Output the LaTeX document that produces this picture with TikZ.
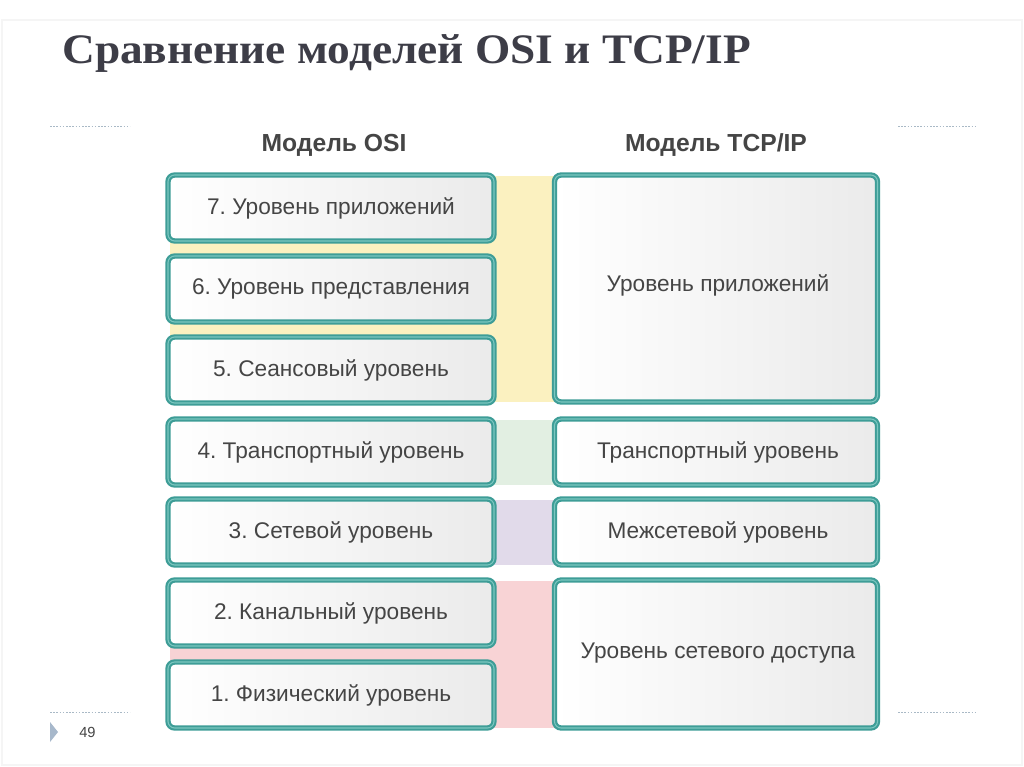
\documentclass[tikz,border=0pt]{standalone}
\usepackage{fontspec}
\setmainfont{Liberation Sans}
\newfontfamily\titlefont[FakeStretch=1.08]{Liberation Serif}
\usetikzlibrary{shapes.geometric}
\definecolor{tealb}{HTML}{3E9D97}
\definecolor{tealhi}{HTML}{7CC7C0}
\definecolor{txt}{HTML}{454545}
\definecolor{titlec}{HTML}{3D3D47}
\definecolor{yel}{HTML}{FBF1C0}
\definecolor{grn}{HTML}{E2EFE2}
\definecolor{pur}{HTML}{E1DAEA}
\definecolor{pnk}{HTML}{F8D3D5}
\definecolor{dotc}{HTML}{A9B9C6}
\definecolor{tri}{HTML}{A7B8CB}
\frenchspacing
\tikzset{
  lay/.style={rounded corners=5pt, draw=tealb, line width=4pt,
    left color=white, right color=gray!16, text=txt,
    font=\fontsize{17}{19}\selectfont, inner sep=0pt,
    postaction={draw=tealhi, line width=0.8pt}},
  osi/.style={lay, minimum width=326*0.75pt, minimum height=66*0.75pt},
  tcp/.style={lay, minimum width=323*0.75pt},
  tlab/.style={text=txt, font=\fontsize{17}{19}\selectfont},
  hdr/.style={font=\bfseries\fontsize{18.5}{20}\selectfont, text=txt},
  dots/.style={draw=dotc, line width=0.6pt, dash pattern=on 1.2pt off 1.2pt}
}
\begin{document}
\begin{tikzpicture}[x=0.75pt,y=-0.75pt]
\useasboundingbox (0,0) rectangle (1024,767);
\fill[white] (0,0) rectangle (1024,767);
\draw[gray!8, line width=1pt] (2,20) rectangle (1022,765);
% title
\node[anchor=base west, inner sep=0pt, text=titlec,
  font=\titlefont\bfseries\fontsize{31.5}{33}\selectfont] (title) at (62,64)
  {Сравнение моделей OSI и TCP/IP};
% dotted rules
\draw[dots] (50,126) -- (130,126);
\draw[dots] (898,126) -- (975,126);
\draw[dots] (50,712) -- (130,712);
\draw[dots] (898,712) -- (975,712);
% page number
\fill[tri] (50,722) -- (58,732) -- (50,742) -- cycle;
\node[anchor=west, inner sep=0pt, text=txt, font=\fontsize{11}{13}\selectfont] (pnum) at (79,732) {49};
% colored bands
\fill[yel] (170,176) rectangle (556,402);
\fill[grn] (492,420) rectangle (556,485);
\fill[pur] (492,500) rectangle (556,565);
\fill[pnk] (170,581) rectangle (556,728);
% headers
\node[hdr] (hosi) at (334,145) {Модель OSI};
\node[hdr] (htcp) at (716,145) {Модель TCP/IP};
% OSI
\node[osi] (l7) at (331,208) {7. Уровень приложений};
\node[osi] (l6) at (331,289) {6. Уровень представления};
\node[osi] (l5) at (331,370) {5. Сеансовый уровень};
\node[osi] (l4) at (331,452) {4. Транспортный уровень};
\node[osi] (l3) at (331,532) {3. Сетевой уровень};
\node[osi] (l2) at (331,613) {2. Канальный уровень};
\node[osi] (l1) at (331,695) {1. Физический уровень};
% TCP/IP
\node[tcp, minimum height=227*0.75pt] (tapp) at (716,288.5) {};
\node[tlab] (tappl) at (718,285) {Уровень приложений};
\node[tcp, minimum height=66*0.75pt] (ttr) at (716,452) {};
\node[tlab] (ttrl) at (718,452) {Транспортный уровень};
\node[tcp, minimum height=66*0.75pt] (tin) at (716,532) {};
\node[tlab] (tinl) at (718,532) {Межсетевой уровень};
\node[tcp, minimum height=148*0.75pt] (tna) at (716,654) {};
\node[tlab] (tnal) at (718,653) {Уровень сетевого доступа};
\end{tikzpicture}
\end{document}
